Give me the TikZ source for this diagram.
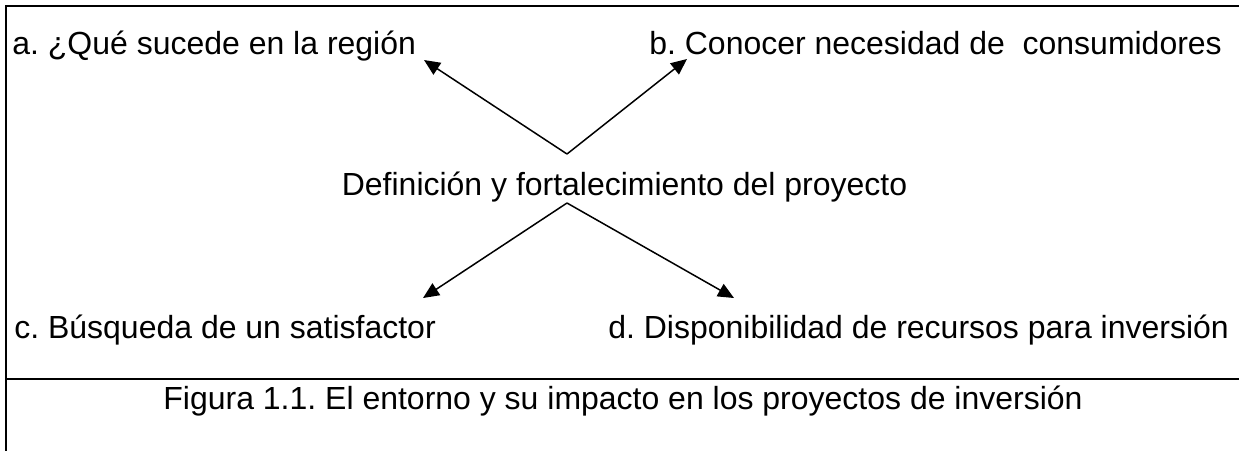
\documentclass[tikz,border=0pt]{standalone}
\usepackage{fontspec}
\setmainfont{Liberation Sans}
\usetikzlibrary{arrows.meta}

\begin{document}
\begin{tikzpicture}

\def\fs{\fontsize{18.2pt}{22pt}\selectfont\frenchspacing}
\tikzstyle{item} = [
	draw=none, fill=none, inner sep=0pt,
	anchor=base west, font=\fs ];
\tikzstyle{title} = [item, anchor=base];
\tikzstyle{frame} = [line width=0.04cm];
\tikzstyle{link} = [line width=0.03cm, -{Triangle[length=3.2mm,width=2.8mm]}];
\useasboundingbox (0,0) rectangle (24.78,-9.02);

% frame
\draw[frame] (24.78,-0.12) -- (0.12,-0.12) -- (0.12,-9.02);
\draw[frame] (0.12,-7.58) -- (24.78,-7.58);

\node[item] (qa) at (0.24,-1.08) {a. ¿Qué sucede en la región};
\node[item] (qb) at (12.98,-1.08) {b. Conocer necesidad de\ \ consumidores};
\node[title] (def) at (12.49,-3.90) {Definición y fortalecimiento del proyecto};
\node[item] (qc) at (0.28,-6.76) {c. Búsqueda de un satisfactor};
\node[item] (qd) at (12.16,-6.76) {d. Disponibilidad de recursos para inversión};
\node[title] (fig) at (12.46,-8.18) {Figura 1.1. El entorno y su impacto en los proyectos de inversión};

\coordinate (dtop) at (11.34,-3.08);
\coordinate (dbot) at (11.34,-4.06);
\coordinate (ta) at (8.48,-1.20);
\coordinate (tb) at (13.74,-1.18);
\coordinate (tc) at (8.46,-5.96);
\coordinate (td) at (14.68,-5.96);

\draw[link] (dtop) -- (ta);
\draw[link] (dtop) -- (tb);
\draw[link] (dbot) -- (tc);
\draw[link] (dbot) -- (td);

\end{tikzpicture}
\end{document}
